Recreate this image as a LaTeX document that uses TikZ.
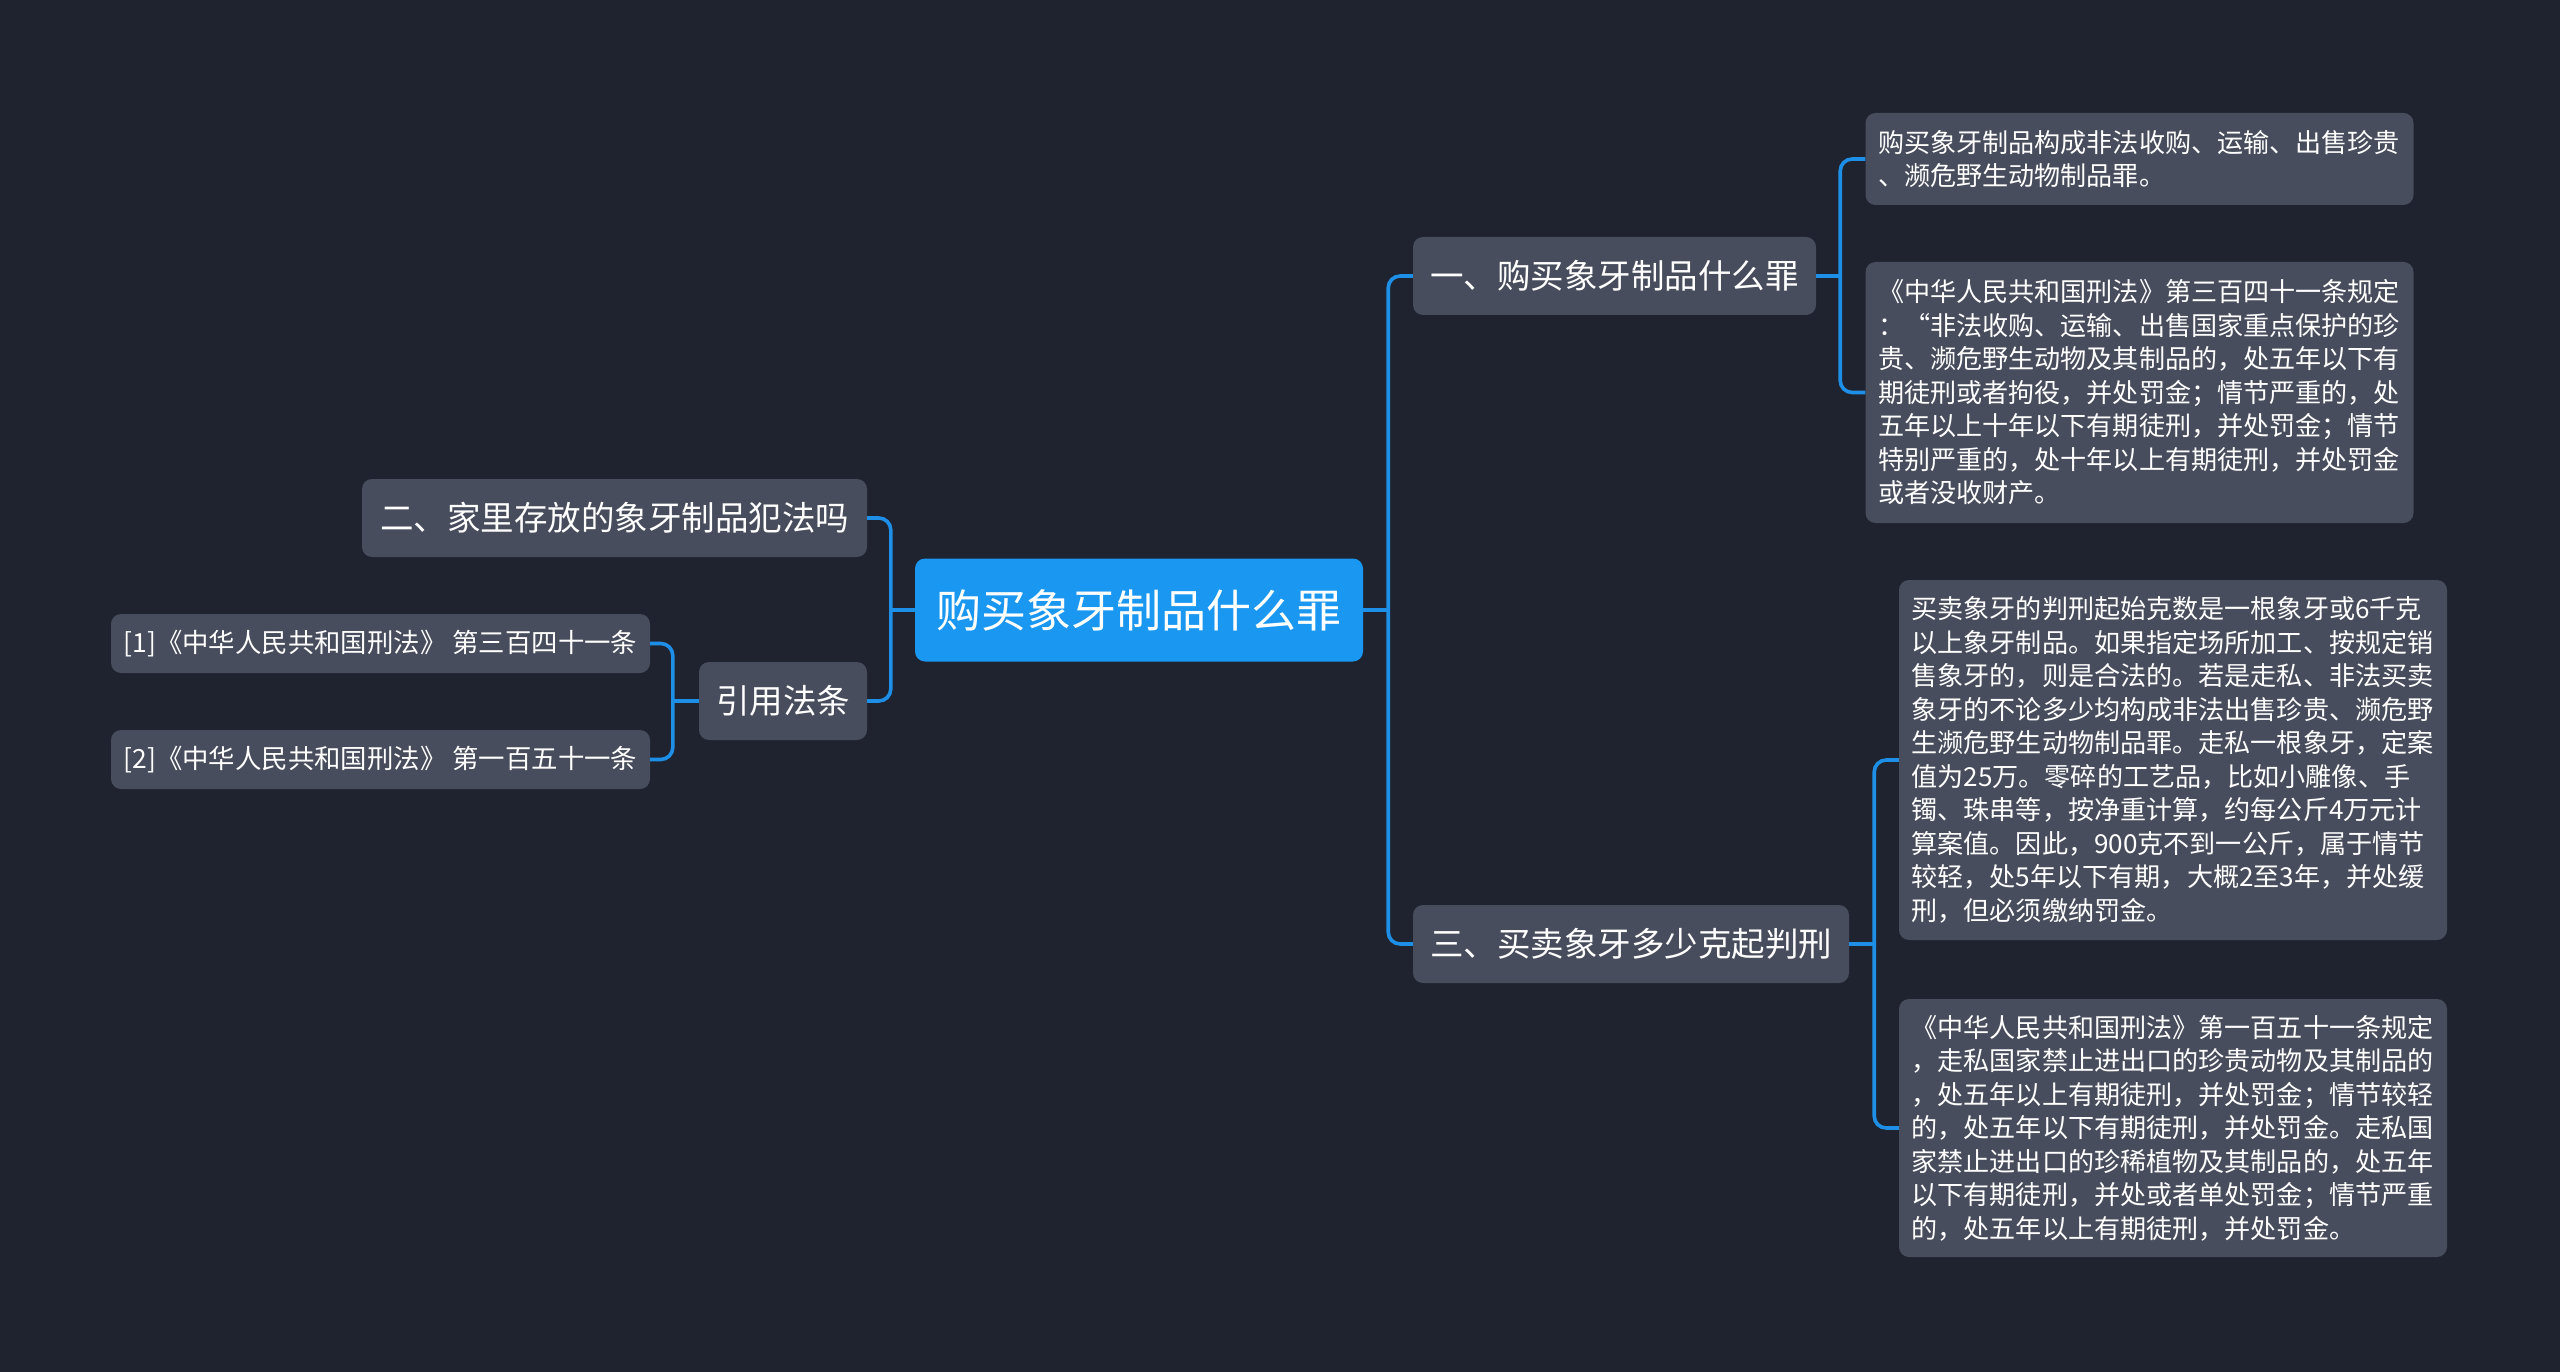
\documentclass[tikz,border=0pt]{standalone}
\usepackage{fontspec}
\setmainfont{Noto Sans CJK SC}
\definecolor{bgc}{HTML}{1F2330}
\definecolor{nodec}{HTML}{474D5C}
\definecolor{rootc}{HTML}{1A97F0}
\definecolor{linec}{HTML}{1E8FE6}
\begin{document}
\begin{tikzpicture}[x=1pt,y=-1pt,
  box/.style={fill=nodec, rounded corners=10pt, inner sep=0pt, text=white, align=center},
  rootbox/.style={box, fill=rootc, font=\fontsize{45}{54}\selectfont},
  branch/.style={box, font=\fontsize{33.5}{40}\selectfont, minimum height=78pt},
  refbox/.style={box, font=\fontsize{26.4}{32}\selectfont, minimum height=59pt, minimum width=539pt},
  leaf/.style={box, font=\fontsize{26.1}{33.5}\selectfont, text width=523pt, align=left, minimum width=548pt},
  conn/.style={draw=linec, line width=3.6pt, rounded corners=12pt}
]
\fill[bgc] (0,0) rectangle (2560,1372);
\useasboundingbox (0,0) rectangle (2560,1372);

% nodes
\node[rootbox, minimum width=448pt, minimum height=103pt] (root) at (1139,610) {购买象牙制品什么罪};
\node[branch, minimum width=403pt] (b1) at (1614.5,276) {一、购买象牙制品什么罪};
\node[branch, minimum width=436pt] (b3) at (1631,944) {三、买卖象牙多少克起判刑};
\node[branch, minimum width=505pt] (b2) at (614.5,518) {二、家里存放的象牙制品犯法吗};
\node[branch, minimum width=168pt] (cite) at (783,701) {引用法条};
\node[refbox] (ref1) at (380.5,643.5) {[1]《中华人民共和国刑法》 第三百四十一条};
\node[refbox] (ref2) at (380.5,759.5) {[2]《中华人民共和国刑法》 第一百五十一条};

\node[leaf, minimum height=92pt] (l1a) at (2139.5,159) {购买象牙制品构成非法收购、运输、出售珍贵\\、濒危野生动物制品罪。};
\node[leaf, minimum height=261pt] (l1b) at (2139.5,392.5) {《中华人民共和国刑法》第三百四十一条规定\\：“非法收购、运输、出售国家重点保护的珍\\贵、濒危野生动物及其制品的，处五年以下有\\期徒刑或者拘役，并处罚金；情节严重的，处\\五年以上十年以下有期徒刑，并处罚金；情节\\特别严重的，处十年以上有期徒刑，并处罚金\\或者没收财产。};
\node[leaf, minimum height=360pt] (l3a) at (2173,760) {买卖象牙的判刑起始克数是一根象牙或6千克\\以上象牙制品。如果指定场所加工、按规定销\\售象牙的，则是合法的。若是走私、非法买卖\\象牙的不论多少均构成非法出售珍贵、濒危野\\生濒危野生动物制品罪。走私一根象牙，定案\\值为25万。零碎的工艺品，比如小雕像、手\\镯、珠串等，按净重计算，约每公斤4万元计\\算案值。因此，900克不到一公斤，属于情节\\较轻，处5年以下有期，大概2至3年，并处缓\\刑，但必须缴纳罚金。};
\node[leaf, minimum height=258pt] (l3b) at (2173,1128) {《中华人民共和国刑法》第一百五十一条规定\\，走私国家禁止进出口的珍贵动物及其制品的\\，处五年以上有期徒刑，并处罚金；情节较轻\\的，处五年以下有期徒刑，并处罚金。走私国\\家禁止进出口的珍稀植物及其制品的，处五年\\以下有期徒刑，并处或者单处罚金；情节严重\\的，处五年以上有期徒刑，并处罚金。};

% junctions
\coordinate (jR) at ([xshift=25pt]root.east);
\coordinate (jL) at ([xshift=-24pt]root.west);
\coordinate (j1) at ([xshift=24pt]b1.east);
\coordinate (j3) at ([xshift=25pt]b3.east);
\coordinate (jc) at ([xshift=-26pt]cite.west);

% connectors
\draw[conn] (root.east) -- (jR);
\draw[conn] (jR) |- (b1.west);
\draw[conn] (jR) |- (b3.west);
\draw[conn] (root.west) -- (jL);
\draw[conn] (jL) |- (b2.east);
\draw[conn] (jL) |- (cite.east);
\draw[conn] (b1.east) -- (j1);
\draw[conn] (j1) |- (l1a.west);
\draw[conn] (j1) |- (l1b.west);
\draw[conn] (b3.east) -- (j3);
\draw[conn] (j3) |- (l3a.west);
\draw[conn] (j3) |- (l3b.west);
\draw[conn] (cite.west) -- (jc);
\draw[conn] (jc) |- (ref1.east);
\draw[conn] (jc) |- (ref2.east);
\end{tikzpicture}
\end{document}
